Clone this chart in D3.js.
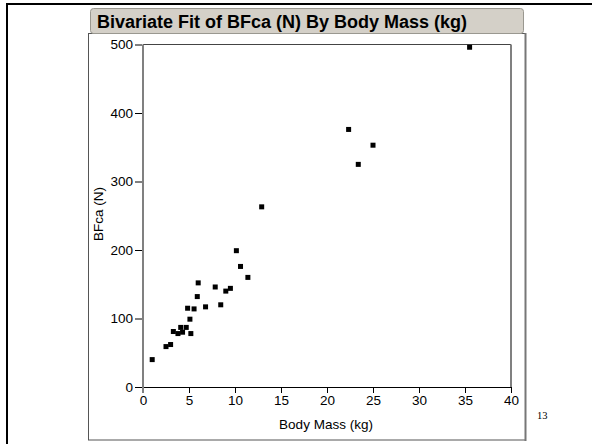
<!DOCTYPE html>
<html>
<head>
<meta charset="utf-8">
<script src="https://cdn.jsdelivr.net/npm/d3@7"></script>
<style>
  body { margin: 0; background: #fff; }
  svg { display: block; font-family: "Liberation Sans", Arial, sans-serif; }
</style>
</head>
<body>
<svg id="chart" width="592" height="444"></svg>
<script>
// body mass (kg) and BFca (N)
const bodyMass = [1.0, 2.5, 3.0, 3.3, 3.8, 4.1, 4.3, 4.7, 5.2, 5.1, 4.85, 5.55, 5.9, 6.0, 6.8,
                  7.85, 8.45, 9.0, 9.5, 10.15, 10.6, 11.4, 12.9, 22.35, 23.4, 25.0, 35.5]
const bfca = [40, 59, 62, 81, 78, 87, 80, 87, 78, 99, 115, 114, 132, 152, 117,
              146, 120, 140, 144, 199, 176, 160, 263, 376, 325, 353, 496]
const xTicks = [0, 5, 10, 15, 20, 25, 30, 35, 40]
const yTicks = [0, 100, 200, 300, 400, 500]

const svg = d3.select("#chart")

// slide frame
svg.append("line").attr("x1", 6).attr("x2", 592).attr("y1", 4).attr("y2", 4)
  .attr("stroke", "#000").attr("stroke-width", 2)
svg.append("line").attr("x1", 7).attr("x2", 7).attr("y1", 3).attr("y2", 444)
  .attr("stroke", "#000").attr("stroke-width", 2)

// report panel
svg.append("rect").attr("x", 88.5).attr("y", 33.5).attr("width", 437).attr("height", 406.5)
  .attr("fill", "#fff").attr("stroke", "#555").attr("stroke-width", 1)
svg.append("line").attr("x1", 525.5).attr("x2", 525.5).attr("y1", 33).attr("y2", 441)
  .attr("stroke", "#777").attr("stroke-width", 2)

// title bar
svg.append("rect").attr("x", 90.5).attr("y", 8.5).attr("width", 433).attr("height", 25)
  .attr("rx", 3).attr("fill", "#d4d0c8").attr("stroke", "#9a9890")
svg.append("text").attr("x", 97).attr("y", 27.5)
  .attr("font-size", 18).attr("font-weight", "bold").attr("fill", "#000")
  .text("Bivariate Fit of BFca (N) By Body Mass (kg)")

const pLeft = 143, pRight = 511, pTop = 44.5, pBottom = 387

const x = d3.scaleLinear().domain([0, 40]).range([pLeft, pRight])
const y = d3.scaleLinear().domain([0, 500]).range([pBottom, pTop])

// plot frame
svg.append("line").attr("x1", pLeft).attr("x2", pRight).attr("y1", pTop).attr("y2", pTop)
  .attr("stroke", "#444").attr("stroke-width", 1)
svg.append("line").attr("x1", pRight).attr("x2", pRight).attr("y1", pTop).attr("y2", pBottom)
  .attr("stroke", "#808080").attr("stroke-width", 2)

const xAxis = svg.append("g").attr("transform", "translate(0," + pBottom + ")")
  .call(d3.axisBottom(x).tickValues(xTicks).tickSize(6).tickPadding(2))
xAxis.select(".domain").attr("stroke", "#000").attr("d", "M" + pLeft + ",0.5H" + pRight)
xAxis.selectAll(".tick line").attr("stroke", "#000")
xAxis.selectAll("text").attr("font-size", 13.5).attr("font-family", "Liberation Sans, Arial, sans-serif").attr("fill", "#000")

const yAxis = svg.append("g").attr("transform", "translate(" + pLeft + ",0)")
  .call(d3.axisLeft(y).tickValues(yTicks).tickSize(8).tickPadding(2))
yAxis.select(".domain").attr("stroke", "#808080").attr("stroke-width", 2).attr("d", "M0," + pTop + "V" + (pBottom + 6))
yAxis.selectAll(".tick line").attr("stroke", "#000").attr("x1", -1)
yAxis.selectAll("text").attr("font-size", 13.5).attr("font-family", "Liberation Sans, Arial, sans-serif").attr("fill", "#000")

// axis titles
svg.append("text").attr("x", 326).attr("y", 429)
  .attr("text-anchor", "middle").attr("font-size", 13.5).text("Body Mass (kg)")
svg.append("text").attr("transform", "translate(103,214) rotate(-90)")
  .attr("text-anchor", "middle").attr("font-size", 13.5).text("BFca (N)")

// points
const pts = bodyMass.map((m, i) => ({x: m, y: bfca[i]}))
svg.append("g").selectAll("rect").data(pts).join("rect")
  .attr("x", d => x(d.x) - 2.5).attr("y", d => y(d.y) - 2.5)
  .attr("width", 5).attr("height", 5).attr("fill", "#000")

// page number
svg.append("text").attr("x", 537).attr("y", 419)
  .attr("font-family", "Liberation Serif, Times New Roman, serif").attr("font-size", 10.5).text("13")
</script>
</body>
</html>
